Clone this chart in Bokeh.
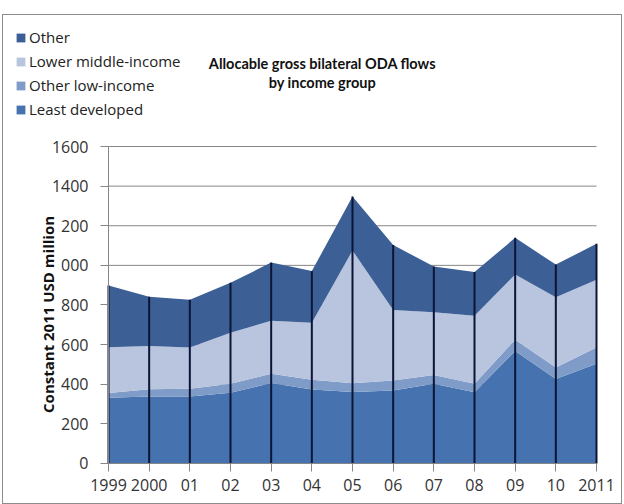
import math
from bokeh.plotting import figure
from bokeh.models import Range1d, FixedTicker, Legend, LegendItem, Label, ColumnDataSource
from bokeh.embed import file_html
from bokeh.resources import INLINE

years = [1999, 2000, 2001, 2002, 2003, 2004, 2005, 2006, 2007, 2008, 2009, 2010, 2011]
year_labels = ["1999", "2000", "01", "02", "03", "04", "05", "06", "07", "08", "09", "10", "2011"]
least_developed = [332, 338, 338, 357, 406, 374, 361, 368, 402, 359, 568, 427, 504]
other_low_income = [24, 37, 39, 45, 47, 49, 44, 51, 44, 43, 57, 58, 81]
lower_middle_income = [231, 218, 208, 258, 267, 287, 670, 356, 317, 344, 329, 354, 342]
other = [311, 249, 241, 252, 294, 261, 272, 328, 231, 220, 185, 165, 182]
y_ticks = [0, 200, 400, 600, 800, 1000, 1200, 1400, 1600]

series_names = ["Least developed", "Other low-income", "Lower middle-income", "Other"]
colors = ["#4673AF", "#7F9BC8", "#B9C4DE", "#3C5F96"]

totals = [a + b + c + d for a, b, c, d in zip(least_developed, other_low_income, lower_middle_income, other)]

source = ColumnDataSource(data={
    "year": years,
    "Least developed": least_developed,
    "Other low-income": other_low_income,
    "Lower middle-income": lower_middle_income,
    "Other": other,
    "zero": [0] * len(years),
    "total": totals,
})
grid_source = ColumnDataSource(data={
    "x0": [years[0]] * len(y_ticks),
    "x1": [years[-1]] * len(y_ticks),
    "y": y_ticks,
})

# frame spans nearly the whole figure so the legend, titles and axes (inside it) are not clipped
p = figure(width=620, height=490, output_backend="svg", toolbar_location=None,
           x_range=Range1d(1996.418, 2011.664), y_range=Range1d(-202, 2236),
           min_border_left=0, min_border_right=0, min_border_top=5, min_border_bottom=2)
p.styles = {"margin-left": "2px", "margin-top": "14px", "border": "1px solid #8c8c8c"}
p.outline_line_color = None
p.background_fill_color = "white"
p.border_fill_color = "white"
p.xgrid.visible = False
p.ygrid.visible = False

# horizontal gridlines spanning the data years only
p.segment(x0="x0", x1="x1", y0="y", y1="y", source=grid_source, line_color="#878787", line_width=1)

renderers = p.varea_stack(stackers=series_names, x="year", color=colors, source=source)
p.segment(x0="year", y0="zero", x1="year", y1="total", source=source,
          line_color="#0b1535", line_width=2)

# axes
p.xaxis.ticker = FixedTicker(ticks=years)
p.xaxis.major_label_overrides = {y: l for y, l in zip(years, year_labels)}
p.xaxis.bounds = (years[0], years[-1])
p.xaxis.fixed_location = y_ticks[0]
p.yaxis.ticker = FixedTicker(ticks=y_ticks)
p.yaxis.bounds = (y_ticks[0], y_ticks[-1])
p.yaxis.fixed_location = years[0]
for ax in (p.xaxis[0], p.yaxis[0]):
    ax.axis_line_color = "#868686"
    ax.major_tick_line_color = "#868686"
    ax.major_tick_out = 8
    ax.major_tick_in = 0
    ax.minor_tick_line_color = None
    ax.major_label_text_font = "Open Sans"
    ax.major_label_text_font_size = "16px"
    ax.major_label_text_color = "#333333"
p.yaxis.major_label_standoff = 12
p.xaxis.major_label_standoff = 8

# legend
items = [LegendItem(label=name, renderers=[r]) for name, r in zip(series_names, renderers)]
items = items[::-1]
legend = Legend(items=items, location=(12, 384), orientation="vertical",
                glyph_width=11, glyph_height=11, label_standoff=3, spacing=4,
                padding=0, margin=0, border_line_color=None, background_fill_color=None,
                label_text_font="Open Sans", label_text_font_size="15px",
                label_text_color="#222222", label_height=18)
p.add_layout(legend, "center")

# title
t1 = Label(x=2004.26, y=2019, text="Allocable gross bilateral ODA flows",
           text_align="center", text_baseline="middle", text_font="Lato", text_font_style="bold",
           text_font_size="14.5px", text_color="#111111")
t2 = Label(x=2004.26, y=1923, text="by income group",
           text_align="center", text_baseline="middle", text_font="Lato", text_font_style="bold",
           text_font_size="14.5px", text_color="#111111")
p.add_layout(t1)
p.add_layout(t2)

# y axis title (overlapping tick labels like the original)
yt = Label(x=1997.52, y=762, text="Constant  2011 USD million",
           angle=math.pi / 2, text_align="center", text_baseline="middle",
           text_font="Open Sans", text_font_style="bold", text_font_size="15px",
           text_color="#111111", background_fill_color="white")
p.add_layout(yt)

open("out.html", "w").write(file_html(p, INLINE))
